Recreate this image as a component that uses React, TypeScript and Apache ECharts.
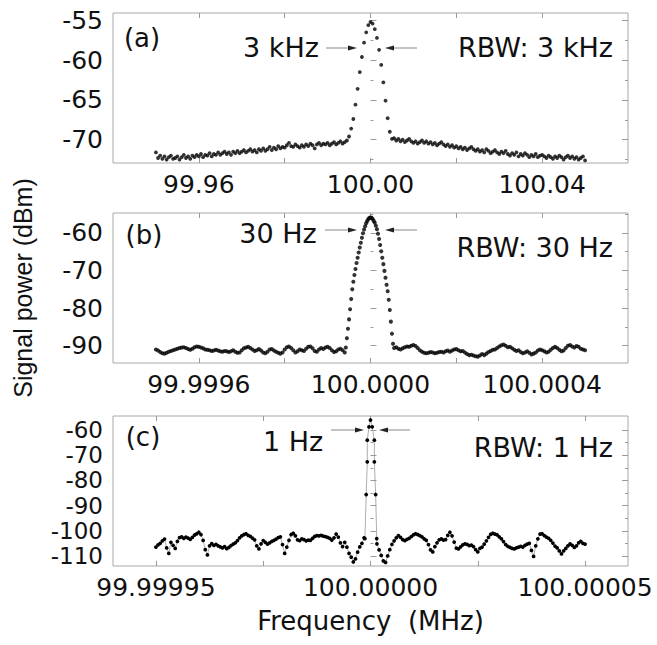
import React, { useEffect, useRef } from "react";
import * as echarts from "echarts";

const FONT = '"DejaVu Sans", "Liberation Sans", sans-serif';
const TITLE_FONT = '"Liberation Sans", Arial, sans-serif';
const FRAME = "#a8a8a8";
const TICK = "#9a9a9a";
const INK = "#111";

// ---------- Panel (a): RBW 3 kHz, x = offset from 100 MHz in kHz ----------
const aStartKHz = -50;
const aStepKHz = 0.5;
const aPower = [
  -71.6, -72.3, -72.0, -72.4, -72.1, -72.5, -72.2, -72.0, -72.4, -72.3,
  -72.1, -72.5, -72.2, -71.9, -72.3, -72.1, -72.4, -72.0, -72.2, -71.9,
  -72.1, -71.8, -72.2, -71.9, -72.0, -71.7, -72.1, -71.8, -71.9, -71.6,
  -71.9, -71.7, -71.5, -71.8, -71.6, -71.9, -71.5, -71.7, -71.4, -71.7,
  -71.5, -71.3, -71.6, -71.4, -71.2, -71.5, -71.3, -71.6, -71.2, -71.4,
  -71.1, -71.4, -71.2, -70.9, -71.3, -71.0, -71.2, -70.8, -71.1, -70.9,
  -71.0, -70.7, -70.4, -70.8, -70.9, -70.6, -70.8, -71.0, -70.7, -70.9,
  -70.6, -70.8, -70.5, -70.7, -71.1, -70.6, -70.4, -70.7, -70.5, -70.6,
  -70.4, -70.7, -70.5, -70.3, -70.6, -70.4, -70.2, -70.5, -70.3, -70.1,
  -69.6, -68.6, -67.4, -65.6, -63.6, -61.5, -59.6, -57.8, -56.5, -55.6,
  -55.2, -55.4, -56.1, -57.2, -58.7, -60.6, -62.8, -65.1, -67.3, -69.0,
  -69.9,
  -69.8, -70.1, -69.9, -70.2, -70.0, -70.3, -70.1, -69.9, -70.2, -70.4,
  -70.2, -70.5, -70.3, -70.1, -70.4, -70.2, -70.5, -70.3, -70.6, -70.4,
  -70.7, -70.5, -70.3, -70.6, -70.8, -70.6, -70.9, -70.7, -71.0, -70.8,
  -71.1, -70.9, -71.2, -71.0, -71.3, -71.1, -70.9, -71.2, -71.4, -71.2,
  -71.5, -71.3, -71.6, -71.2, -71.4, -71.7, -71.5, -71.3, -71.6, -71.8,
  -71.5, -71.7, -71.4, -71.8, -72.0, -71.7, -71.9, -71.6, -72.1, -71.8,
  -72.0, -71.7, -71.9, -72.2, -71.9, -72.1, -71.8, -72.2, -72.0, -71.9,
  -72.1, -72.3, -72.0, -72.2, -72.4, -72.1, -72.3, -72.0, -72.2, -72.5,
  -72.2, -72.0, -72.3, -72.1, -72.4, -72.2, -72.5, -72.3, -72.1, -72.6,
];
const aYLabels = [-70, -65, -60, -55];
const aYMinor = [-72.5, -67.5, -62.5, -57.5];
const aXTicks = [-40, -20, 0, 20, 40];
const aXLabels = [-40, 0, 40];

// ---------- Panel (b): RBW 30 Hz, x = offset from 100 MHz in Hz ----------
const bLeftStartHz = -500;
const bNoiseStepHz = 5;
const bNoiseLeft = [
  -91.0, -91.3, -91.7, -92.0, -92.1, -91.9, -91.6, -91.4, -91.2, -91.0,
  -90.8, -90.6, -90.5, -90.4, -90.6, -90.9, -91.1, -90.8, -90.4, -90.2,
  -90.3, -90.5, -90.7, -91.0, -91.1, -91.2, -91.4, -91.3, -91.1, -91.3,
  -91.5, -91.6, -91.4, -91.5, -91.7, -91.5, -91.2, -91.6, -91.9, -91.8,
  -91.2, -90.7, -90.5, -90.3, -90.6, -91.0, -91.4, -91.2, -90.9, -91.3,
  -91.8, -92.0, -91.6, -91.0, -90.9, -91.3, -91.6, -91.9, -92.1, -91.8,
  -91.0, -90.4, -90.2, -90.6, -91.2, -91.8, -91.5, -91.0, -91.2, -91.4,
  -90.8, -90.3, -90.2, -90.7, -91.4, -91.6, -91.0, -90.6, -90.9, -90.5,
  -90.3, -90.6, -91.2, -91.7, -91.5, -91.0, -90.8, -91.2, -91.8,
];
const bPeakStartHz = -57.5;
const bPeakStepHz = 2.5;
const bPeak = [
  -90.5, -88.0, -85.5, -83.0, -80.3, -77.6, -75.0, -73.0, -71.2, -69.6,
  -68.0, -66.6, -65.2, -63.9, -62.6, -61.3, -60.1, -59.1, -58.2, -57.4,
  -56.8, -56.3, -56.0, -55.9, -56.0, -56.3, -56.8, -57.3, -58.1, -59.0,
  -60.2, -61.6, -63.2, -64.9, -66.6, -68.3, -70.1, -71.9, -73.8, -75.5,
  -77.8, -80.5, -83.6, -86.8, -89.5, -90.6,
];
const bRightStartHz = 60;
const bNoiseRight = [
  -90.4, -90.8, -91.0, -90.7, -90.4, -90.2, -90.3, -90.0, -89.8, -90.1,
  -90.6, -91.2, -91.6, -91.9, -92.0, -91.9, -91.7, -91.8, -92.0, -91.9,
  -91.7, -91.6, -91.8, -91.5, -91.3, -91.6, -91.3, -91.0, -90.9, -91.2,
  -91.5, -91.4, -91.8, -92.2, -92.5, -92.4, -92.6, -92.8, -92.9, -92.6,
  -92.2, -92.5, -92.1, -91.7, -91.4, -91.1, -91.0, -90.6, -90.2, -89.9,
  -89.7, -90.0, -90.4, -90.3, -90.7, -91.1, -91.4, -91.2, -91.7, -92.0,
  -91.8, -91.5, -91.9, -92.3, -92.1, -91.8, -91.3, -91.0, -91.2, -91.5,
  -91.8, -91.6, -91.1, -90.6, -90.3, -90.6, -91.1, -91.5, -91.3, -90.6,
  -90.0, -89.8, -90.2, -90.5, -90.1, -90.3, -90.8, -91.0, -91.2,
];
const bYLabels = [-90, -80, -70, -60];
const bYMinor = [-85, -75, -65, -55];
const bXTicks = [-400, -200, 0, 200, 400];
const bXLabels = [-400, 0, 400];

// ---------- Panel (c): RBW 1 Hz, x = offset from 100 MHz in Hz ----------
const cLeftStartHz = -50;
const cNoiseStepHz = 0.5;
const cNoiseLeft = [
  -106.5, -105.6, -105.0, -104.0, -103.3, -106.8, -109.0, -104.6, -105.8, -107.0,
  -104.2, -102.7, -102.4, -103.0, -102.5, -102.9, -103.4, -102.6, -101.7, -101.2,
  -100.6, -101.5, -103.8, -107.5, -109.6, -106.0, -105.1, -105.8, -105.4, -106.0,
  -106.4, -106.8, -106.3, -107.1, -106.6, -105.9, -105.3, -104.8, -103.9, -102.8,
  -102.0, -101.5, -101.2, -101.8, -102.2, -102.9, -103.6, -106.0, -107.2, -105.2,
  -103.9, -104.6, -105.3, -104.8, -104.2, -103.8, -103.3, -102.7, -102.4, -105.5,
  -109.0, -106.5, -103.8, -101.5, -101.0, -102.0, -103.6, -103.9, -103.2, -103.5,
  -104.0, -103.7, -103.8, -103.0, -102.2, -101.9, -102.0, -101.8, -102.1, -102.3,
  -102.6, -103.0, -103.7, -102.8, -101.3, -102.5, -104.8, -106.3, -104.6, -106.5,
  -109.0, -110.5, -112.4, -111.2, -108.5, -106.4, -105.0, -102.8,
];
const cPeakHz = [-1.3, -1.0, -0.75, -0.75, -0.35, 0, 0.4, 0.9, 0.9, 1.2, 1.45];
const cPeakPower = [-103.1, -85.6, -72.6, -64.0, -58.7, -56.0, -58.7, -64.0, -72.6, -85.6, -103.1];
const cRightStartHz = 1.5;
const cNoiseRight = [
  -105.2, -107.6, -109.8, -112.0, -112.6, -110.0, -107.5, -105.4, -104.0, -102.8,
  -101.9, -102.6, -103.5, -103.9, -103.4, -103.0, -102.3, -101.6, -101.2, -101.5,
  -101.9, -102.4, -103.2, -103.8, -105.5, -107.6, -108.4, -106.3, -104.8, -103.6,
  -103.2, -103.7, -103.5, -101.8, -100.6, -102.0, -104.5, -106.9, -107.2, -106.4,
  -105.6, -105.2, -105.4, -105.9, -105.7, -106.3, -107.5, -108.4, -107.0, -106.5,
  -105.3, -104.0, -102.6, -101.4, -101.0, -101.3, -101.6, -102.4, -103.2, -104.3,
  -105.5, -106.2, -106.6, -107.0, -107.2, -106.8, -106.5, -106.2, -106.5, -105.8,
  -105.3, -105.0, -107.8, -110.2, -106.0, -103.2, -101.3, -101.2, -101.9, -102.5,
  -103.0, -103.8, -104.9, -106.1, -106.8, -108.0, -109.2, -108.0, -107.0, -106.0,
  -105.2, -105.8, -106.6, -106.0, -104.8, -104.2, -105.0, -105.3,
];
const cYLabels = [-110, -100, -90, -80, -70, -60];
const cYMinor = [-105, -95, -85, -75, -65];
const cXTicks = [-50, -25, 0, 25, 50];
const cXLabels = [-50, 0, 50];

// ---------- texts ----------
const panelTags = ["(a)", "(b)", "(c)"];
const widthTexts = ["3 kHz", "30 Hz", "1 Hz"];
const rbwTexts = ["RBW: 3 kHz", "RBW: 30 Hz", "RBW: 1 Hz"];

export default function App() {
  const ref = useRef<HTMLDivElement>(null);

  useEffect(() => {
    if (!ref.current) return;
    const chart = echarts.init(ref.current, null, { renderer: "svg" });

    const aData = aPower.map((p, i) => [aStartKHz + aStepKHz * i, p]);
    const bData = [
      ...bNoiseLeft.map((p, i) => [bLeftStartHz + bNoiseStepHz * i, p]),
      ...bPeak.map((p, i) => [bPeakStartHz + bPeakStepHz * i, p]),
      ...bNoiseRight.map((p, i) => [bRightStartHz + bNoiseStepHz * i, p]),
    ];
    const cData = [
      ...cNoiseLeft.map((p, i) => [cLeftStartHz + cNoiseStepHz * i, p]),
      ...cPeakHz.map((f, i) => [f, cPeakPower[i]]),
      ...cNoiseRight.map((p, i) => [cRightStartHz + cNoiseStepHz * i, p]),
    ];

    const GL = 113, GW = 515, GH = 150;
    const tops = [13, 213, 416];

    const panels = [
      { xMin: -60, xMax: 60, xTicks: aXTicks, xLabels: aXLabels, fmt: (v: number) => (100 + v / 1000).toFixed(2),
        yMin: -72.93, yMax: -54.07, yLabels: aYLabels, yMinor: aYMinor, fs: 25, lh: 30 },
      { xMin: -600, xMax: 600, xTicks: bXTicks, xLabels: bXLabels, fmt: (v: number) => (100 + v / 1e6).toFixed(4),
        yMin: -94.6, yMax: -54.7, yLabels: bYLabels, yMinor: bYMinor, fs: 25, lh: 30 },
      { xMin: -60, xMax: 60, xTicks: cXTicks, xLabels: cXLabels, fmt: (v: number) => (100 + v / 1e6).toFixed(5),
        yMin: -114, yMax: -54.4, yLabels: cYLabels, yMinor: cYMinor, fs: 23, lh: 23 },
    ];

    const grid = tops.map((t) => ({
      left: GL, top: t, width: GW, height: GH, show: true,
      borderColor: FRAME, borderWidth: 1, backgroundColor: "transparent",
    }));

    const xAxis: any[] = [];
    const yAxis: any[] = [];
    panels.forEach((p, gi) => {
      const base = {
        gridIndex: gi, type: "value", min: p.xMin, max: p.xMax,
        axisLine: { show: false }, splitLine: { show: false },
      };
      xAxis.push({
        ...base, position: "bottom",
        axisTick: { show: true, inside: true, length: 5, customValues: p.xTicks, lineStyle: { color: TICK } },
        axisLabel: { show: true, customValues: p.xLabels, formatter: p.fmt, margin: 9,
          fontSize: 25, fontFamily: FONT, color: INK },
        ...(gi === 2 ? { name: "Frequency  (MHz)", nameLocation: "middle", nameGap: 42,
          nameTextStyle: { fontSize: 26, fontFamily: FONT, color: INK } } : {}),
      });
      xAxis.push({
        ...base, position: "top",
        axisTick: { show: true, inside: true, length: 5, customValues: p.xTicks, lineStyle: { color: TICK } },
        axisLabel: { show: false },
      });
      const yb = {
        gridIndex: gi, type: "value", min: p.yMin, max: p.yMax,
        axisLine: { show: false }, splitLine: { show: false },
      };
      yAxis.push({
        ...yb, position: "left",
        axisTick: { show: true, inside: true, length: 6, customValues: p.yLabels, lineStyle: { color: TICK } },
        axisLabel: { show: true, customValues: p.yLabels, formatter: (v: number) => String(v), margin: 10,
          fontSize: p.fs, lineHeight: p.lh, fontFamily: FONT, color: INK },
        ...(gi === 1 ? { name: "Signal power (dBm)", nameLocation: "middle", nameGap: 78,
          nameTextStyle: { fontSize: 25, fontFamily: TITLE_FONT, color: INK } } : {}),
      });
      yAxis.push({
        ...yb, position: "left",
        axisTick: { show: true, inside: true, length: 3, customValues: p.yMinor, lineStyle: { color: TICK } },
        axisLabel: { show: false },
      });
      yAxis.push({
        ...yb, position: "right",
        axisTick: { show: true, inside: true, length: 6, customValues: p.yLabels, lineStyle: { color: TICK } },
        axisLabel: { show: false },
      });
      yAxis.push({
        ...yb, position: "right",
        axisTick: { show: true, inside: true, length: 3, customValues: p.yMinor, lineStyle: { color: TICK } },
        axisLabel: { show: false },
      });
    });

    const series: any[] = [
      { type: "scatter", xAxisIndex: 0, yAxisIndex: 0, data: aData, symbol: "circle", symbolSize: 3.8,
        itemStyle: { color: "#000" }, silent: true },
      { type: "scatter", xAxisIndex: 2, yAxisIndex: 4, data: bData, symbol: "circle", symbolSize: 4.1,
        itemStyle: { color: "#000" }, silent: true },
      { type: "line", xAxisIndex: 4, yAxisIndex: 8, data: cData, symbol: "circle", symbolSize: 3.8,
        showSymbol: true, showAllSymbol: true, itemStyle: { color: "#000" },
        lineStyle: { color: "#999", width: 0.8 }, silent: true },
    ];

    // annotation layout (pixels)
    const ann = [
      { tagX: 142, tagY: 38, wX: 281, wY: 47, rY: 47, arY: 48, l1: 326, lTip: 357, rTip: 385, r2: 417 },
      { tagX: 144, tagY: 235, wX: 278, wY: 233, rY: 247, arY: 230, l1: 325, lTip: 357, rTip: 385, r2: 417 },
      { tagX: 143, tagY: 437, wX: 293, wY: 441, rY: 447, arY: 430, l1: 331, lTip: 364, rTip: 379, r2: 410 },
    ];
    const graphic: any[] = [];
    ann.forEach((a, i) => {
      graphic.push({ type: "text", x: a.tagX, y: a.tagY,
        style: { text: panelTags[i], fontSize: 26, fontFamily: FONT, fill: INK, align: "center", verticalAlign: "middle" } });
      graphic.push({ type: "text", x: a.wX, y: a.wY,
        style: { text: widthTexts[i], fontSize: 27, fontFamily: FONT, fill: INK, align: "center", verticalAlign: "middle" } });
      graphic.push({ type: "text", x: 613, y: a.rY,
        style: { text: rbwTexts[i], fontSize: 27, fontFamily: FONT, fill: INK, align: "right", verticalAlign: "middle" } });
      graphic.push({ type: "line", shape: { x1: a.l1, y1: a.arY, x2: a.lTip - 6, y2: a.arY },
        style: { stroke: "#888", lineWidth: 1 } });
      graphic.push({ type: "polygon", shape: { points: [[a.lTip, a.arY], [a.lTip - 9, a.arY - 2.6], [a.lTip - 9, a.arY + 2.6]] },
        style: { fill: "#222" } });
      graphic.push({ type: "line", shape: { x1: a.rTip + 6, y1: a.arY, x2: a.r2, y2: a.arY },
        style: { stroke: "#888", lineWidth: 1 } });
      graphic.push({ type: "polygon", shape: { points: [[a.rTip, a.arY], [a.rTip + 9, a.arY - 2.6], [a.rTip + 9, a.arY + 2.6]] },
        style: { fill: "#222" } });
    });

    chart.setOption({
      animation: false,
      backgroundColor: "#fff",
      grid, xAxis, yAxis, series, graphic,
    });

    return () => chart.dispose();
  }, []);

  return (
    <div
      ref={ref}
      style={{ position: "absolute", left: 0, top: 0, width: 657, height: 645, background: "#fff" }}
    />
  );
}
